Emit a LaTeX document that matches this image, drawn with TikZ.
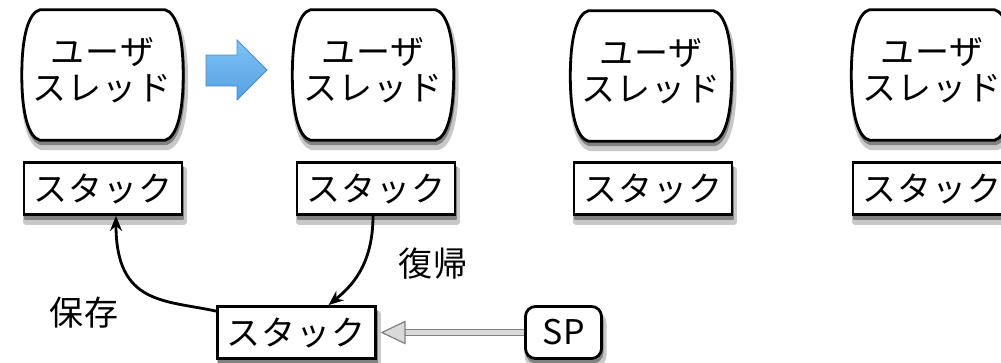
\documentclass[tikz,border=0pt]{standalone}
\usepackage{fontspec}
\setmainfont[LetterSpace=3]{Noto Sans CJK JP}
\usetikzlibrary{calc,arrows.meta}
\definecolor{arrowlight}{RGB}{125,195,245}
\definecolor{arrowdark}{RGB}{85,160,225}
\definecolor{arrowedge}{RGB}{70,140,205}
\definecolor{shadowA}{RGB}{200,200,200}
\definecolor{shadowB}{RGB}{130,130,130}
\begin{document}
\begin{tikzpicture}[x=1pt,y=-1pt,
  jp/.style={font=\fontsize{34}{36}\selectfont},
  shA/.style={fill=shadowA,draw=shadowA,line width=6pt,line join=round},
  shB/.style={fill=shadowB,draw=shadowB,line width=2pt,line join=round},
  stackbox/.style={jp,draw=black,line width=2.8pt,fill=white,minimum width=158,minimum height=52,inner sep=0pt},
  threadholder/.style={minimum width=161,minimum height=130,inner sep=0pt},
  threadtext/.style={jp,align=center,inner sep=0pt},
  threadshape/.style={draw=black,line width=2.8pt,fill=white},
  spbox/.style={jp,draw=black,line width=2.8pt,fill=white,rounded corners=10pt,minimum width=76,minimum height=52,inner sep=0pt},
  conn/.style={line width=2.8pt,-{Stealth[length=15pt,width=12pt]}},
  lbl/.style={jp,inner sep=0pt}
]
\useasboundingbox (0,0) rectangle (1001,362);

\newcommand{\threadpath}[3]{%
  ([shift={(18+#2,#3)}]#1.north west) -- ([shift={(-18+#2,#3)}]#1.north east)
    .. controls +(11,3) and +(0,-40) .. ([shift={(#2,#3)}]#1.east)
    .. controls +(0,40) and +(11,-3) .. ([shift={(-18+#2,#3)}]#1.south east)
    -- ([shift={(18+#2,#3)}]#1.south west)
    .. controls +(-11,-3) and +(0,40) .. ([shift={(#2,#3)}]#1.west)
    .. controls +(0,-40) and +(-11,3) .. cycle}
\newcommand{\threadfull}[1]{%
  \path[shA] \threadpath{#1}{2}{7};
  \path[shB] \threadpath{#1}{1}{4};
  \path[threadshape] \threadpath{#1}{0}{0};}
% shadow of a box: centre x, centre y, width, height, corner radius
\newcommand{\boxshadow}[5]{%
  \path[shA,rounded corners=#5] (#1-#3/2+2,#2-#4/2+7) rectangle (#1+#3/2+2,#2+#4/2+7);
  \path[shB,rounded corners=#5] (#1-#3/2+1,#2-#4/2+4) rectangle (#1+#3/2+1,#2+#4/2+4);}

% threads
\node[threadholder] (t1) at (102.5,75) {};
\node[threadholder] (t2) at (373,75) {};
\node[threadholder] (t3) at (651,76) {};
\node[threadholder] (t4) at (932,75) {};
\threadfull{t1}
\threadfull{t2}
\threadfull{t3}
\threadfull{t4}
\node[threadtext] (tt1) at ([yshift=5]t1.center) {ユーザ\\スレッド};
\node[threadtext] (tt2) at ([yshift=5]t2.center) {ユーザ\\スレッド};
\node[threadtext] (tt3) at ([yshift=5]t3.center) {ユーザ\\スレッド};
\node[threadtext] (tt4) at ([yshift=5]t4.center) {ユーザ\\スレッド};

% stacks
\boxshadow{103}{188.5}{158}{52}{0pt}
\boxshadow{376}{188.5}{158}{52}{0pt}
\boxshadow{653}{188.5}{158}{52}{0pt}
\boxshadow{932}{188.5}{158}{52}{0pt}
\boxshadow{296.5}{332.5}{158}{52}{0pt}
\boxshadow{563.5}{332.5}{76}{52}{10pt}
\node[stackbox] (s1) at (103,188.5) {スタック};
\node[stackbox] (s2) at (376,188.5) {スタック};
\node[stackbox] (s3) at (653,188.5) {スタック};
\node[stackbox] (s4) at (932,188.5) {スタック};
\node[stackbox] (bs) at (296.5,332.5) {スタック};
\node[spbox] (sp) at (563.5,332.5) {SP};

% blue arrow
\path[draw=arrowedge,line width=0.8pt,top color=arrowlight,bottom color=arrowdark]
  (206,55) -- (237,55) -- (237,40) -- (267,70) -- (237,100) -- (237,86) -- (206,86) -- cycle;

% connectors
\draw[conn] ([xshift=-3]s2.south) .. controls +(0,50) and +(22,-18) .. ([xshift=32]bs.north);
\draw[conn] ([yshift=-6]bs.north west) .. controls (165,300) and (116,305) .. ([xshift=13]s1.south);
\node[lbl] (lf) at (433,264) {復帰};
\node[lbl] (ls) at (84,313) {保存};

% SP arrow (double, hollow)
\coordinate (tip) at ([xshift=5]bs.east);
\coordinate (hb) at ([xshift=28]bs.east);
\draw[draw=gray,line width=1.2pt,double=black!15,double distance=5pt] (sp.west) -- (hb);
\path[draw=gray,fill=black!15,line width=1.2pt,line join=miter] (tip) -- ([yshift=-11]hb) -- ([yshift=11]hb) -- cycle;
\end{tikzpicture}
\end{document}
